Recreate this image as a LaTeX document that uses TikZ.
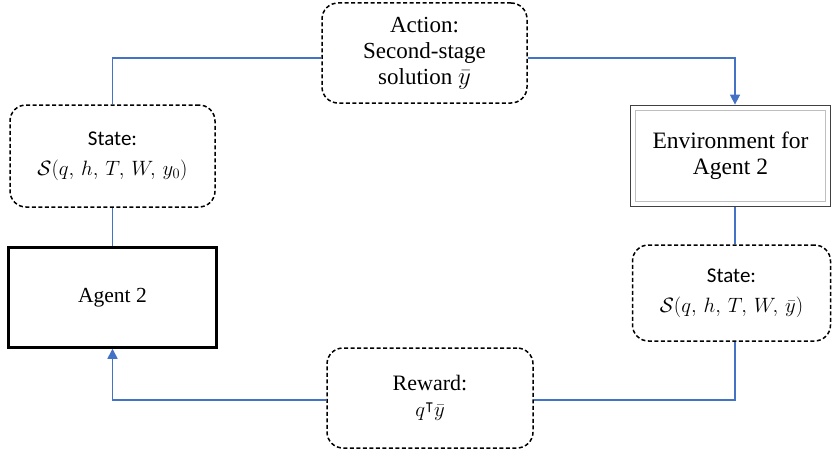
\documentclass[tikz,border=0pt]{standalone}
\usepackage{amsmath,amssymb}
\usepackage{fontspec}
\setmainfont{Liberation Serif}
\newfontfamily\labelsans{Carlito}
\usetikzlibrary{arrows.meta}
\definecolor{flowblue}{HTML}{4472C4}
\tikzset{
  x=1pt, y=-1pt,
  txt/.style={align=center},
  dashbox/.style={txt, draw=black, line width=1.5pt, dash pattern=on 4pt off 2.5pt,
    rounded corners=16pt, inner sep=0pt},
  statebox/.style={dashbox, font=\labelsans\fontsize{21}{30}\selectfont},
  agentbox/.style={txt, draw=black, line width=2.5pt, inner sep=0pt},
  flow/.style={draw=flowblue, line width=1.6pt},
  tip/.style={-{Triangle[length=10pt,width=10pt]}}
}
\begin{document}
\begin{tikzpicture}
\useasboundingbox (0,0) rectangle (833,452);
% boxes
\node[dashbox, minimum width=205pt, minimum height=100pt,
      font=\fontsize{23}{26}\selectfont] (action) at (424.5,53)
  {Action:\\Second-stage\\solution $\bar{y}$};
\node[statebox, minimum width=205pt, minimum height=102pt] (sl) at (112.5,156)
  {State:\\$\mathcal{S}(q,\,h,\,T,\,W,\,y_0)$};
\node[agentbox, minimum width=208pt, minimum height=100pt,
      font=\fontsize{21.5}{26}\selectfont] (agent) at (112.5,297.5)
  {Agent 2};
\node[draw=black!75, line width=1.8pt, minimum width=200pt, minimum height=101pt,
      inner sep=0pt] (env) at (730.5,156) {};
\node[draw=black!25, line width=1pt, minimum width=190pt, minimum height=91pt,
      inner sep=0pt, txt, font=\fontsize{23.5}{26}\selectfont] (envin) at (env.center)
  {Environment for\\Agent 2};
\node[statebox, minimum width=198pt, minimum height=96pt] (sr) at (731.5,293)
  {State:\\$\mathcal{S}(q,\,h,\,T,\,W,\,\bar{y})$};
\node[dashbox, minimum width=206pt, minimum height=100pt,
      font=\fontsize{22}{26}\selectfont] (reward) at (430,398)
  {Reward:\\$q^{\intercal}\bar{y}$};
% connectors
\draw[flow] (agent.north) -- (sl.south);
\draw[flow] (sl.north) |- ([yshift=-5pt]action.west);
\draw[flow, tip] ([yshift=-5pt]action.east) -| ([xshift=4.5pt]env.north);
\draw[flow] ([xshift=4.5pt]env.south) -- ([xshift=4.5pt]env.south |- sr.north);
\draw[flow] ([xshift=3.5pt]sr.south) |- ([yshift=-2pt]reward.east);
\draw[flow, tip] ([yshift=-2pt]reward.west) -| (agent.south);
\end{tikzpicture}
\end{document}
